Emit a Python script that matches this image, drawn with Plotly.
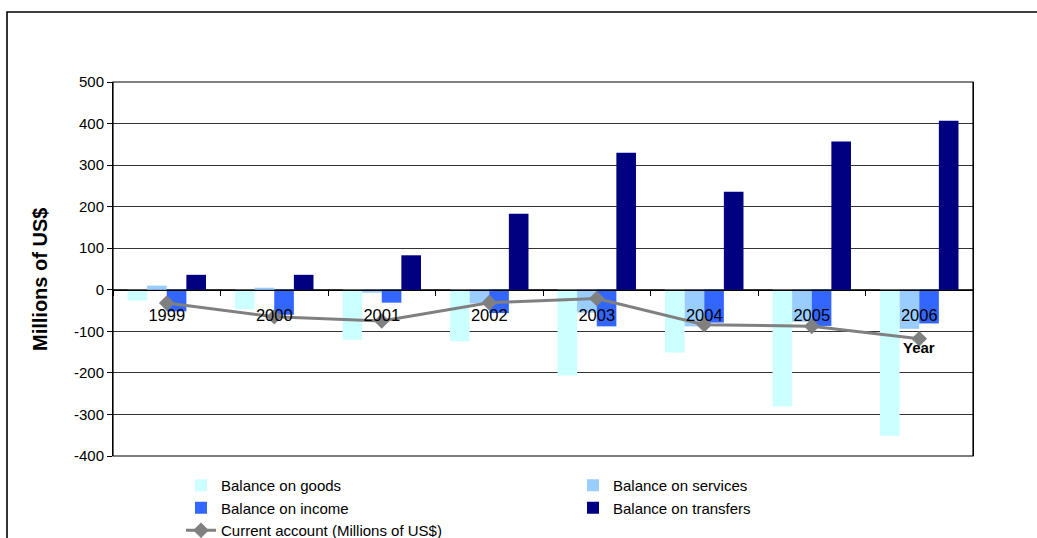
import plotly.graph_objects as go

# Balance of payments components, millions of US$
years = ["1999", "2000", "2001", "2002", "2003", "2004", "2005", "2006"]
goods = [-26, -47, -120, -124, -206, -151, -281, -351]
services = [10, 5, -7, -33, -55, -88, -77, -94]
income = [-52, -60, -31, -56, -88, -79, -87, -81]
transfers = [36, 36, 83, 183, 330, 236, 357, 407]
current_account = [-32, -65, -75, -31, -21, -84, -88, -118]

y_ticks = [500, 400, 300, 200, 100, 0, -100, -200, -300, -400]
y_tick_text = [str(v) for v in y_ticks]

FONT = "Arial, Liberation Sans, sans-serif"

fig = go.Figure()

bar_series = [
    ("Balance on goods", goods, "#CCFFFF"),
    ("Balance on services", services, "#99CCFF"),
    ("Balance on income", income, "#3366FF"),
    ("Balance on transfers", transfers, "#000080"),
]
for name, vals, color in bar_series:
    fig.add_trace(go.Bar(
        x=years, y=vals, name=name,
        marker=dict(color=color, line=dict(width=0)),
    ))

fig.add_trace(go.Scatter(
    x=years, y=current_account, name="Current account (Millions of US$)",
    mode="lines+markers",
    line=dict(color="#808080", width=3),
    marker=dict(symbol="diamond", size=12, color="#808080"),
))

y_min, y_max = min(y_ticks), max(y_ticks)
zero_pos = (0 - y_min) / (y_max - y_min)

fig.update_layout(
    width=1037, height=538,
    margin=dict(l=113, r=64, t=82, b=82, autoexpand=False),
    paper_bgcolor="white", plot_bgcolor="white",
    barmode="group", bargap=0.27, bargroupgap=0,
    font=dict(family=FONT, color="black"),
    showlegend=True,
    legend=dict(
        orientation="h",
        x=(181 - 113) / 860, xanchor="left",
        y=(456 - 469) / 374, yanchor="top",
        entrywidth=347, entrywidthmode="pixels",
        font=dict(size=15, family=FONT, color="black"),
        bgcolor="rgba(0,0,0,0)", tracegroupgap=0,
        traceorder="normal",
    ),
    xaxis=dict(
        type="category", categoryarray=years,
        anchor="free", position=zero_pos,
        showline=True, linecolor="black", linewidth=1,
        ticks="outside", ticklen=5, tickcolor="black", tickson="boundaries",
        ticklabelstandoff=10,
        tickfont=dict(size=16.5, family=FONT, color="black"),
        showgrid=False, zeroline=False,
    ),
    yaxis=dict(
        range=[y_min, y_max],
        tickvals=y_ticks, ticktext=y_tick_text,
        showline=True, linecolor="black", linewidth=1, mirror=True,
        ticks="outside", ticklen=5, tickcolor="black",
        tickfont=dict(size=15, family=FONT, color="black"),
        showgrid=True, gridcolor="#333333", gridwidth=1,
        zeroline=False,
    ),
    shapes=[
        # plot area frame
        dict(type="rect", xref="paper", yref="paper", x0=0, x1=1, y0=0, y1=1,
             line=dict(color="black", width=1.2), layer="above"),
        # outer chart frame
        dict(type="rect", xref="paper", yref="paper",
             x0=(7 - 113) / 860, x1=1.3, y0=-0.4, y1=(456 - 12) / 374,
             line=dict(color="black", width=1.6), layer="below"),
    ],
    annotations=[
        dict(text="<b>Millions of US$</b>", textangle=-90,
             xref="paper", yref="paper", x=(27 - 113) / 860, y=(456 - 280) / 374,
             showarrow=False, font=dict(size=20, family=FONT, color="black")),
        dict(text="<b>Year</b>",
             xref="paper", yref="paper", x=(937 - 113) / 860, y=(456 - 358) / 374,
             showarrow=False, font=dict(size=15, family=FONT, color="black")),
    ],
)

fig.write_html("out.html")
